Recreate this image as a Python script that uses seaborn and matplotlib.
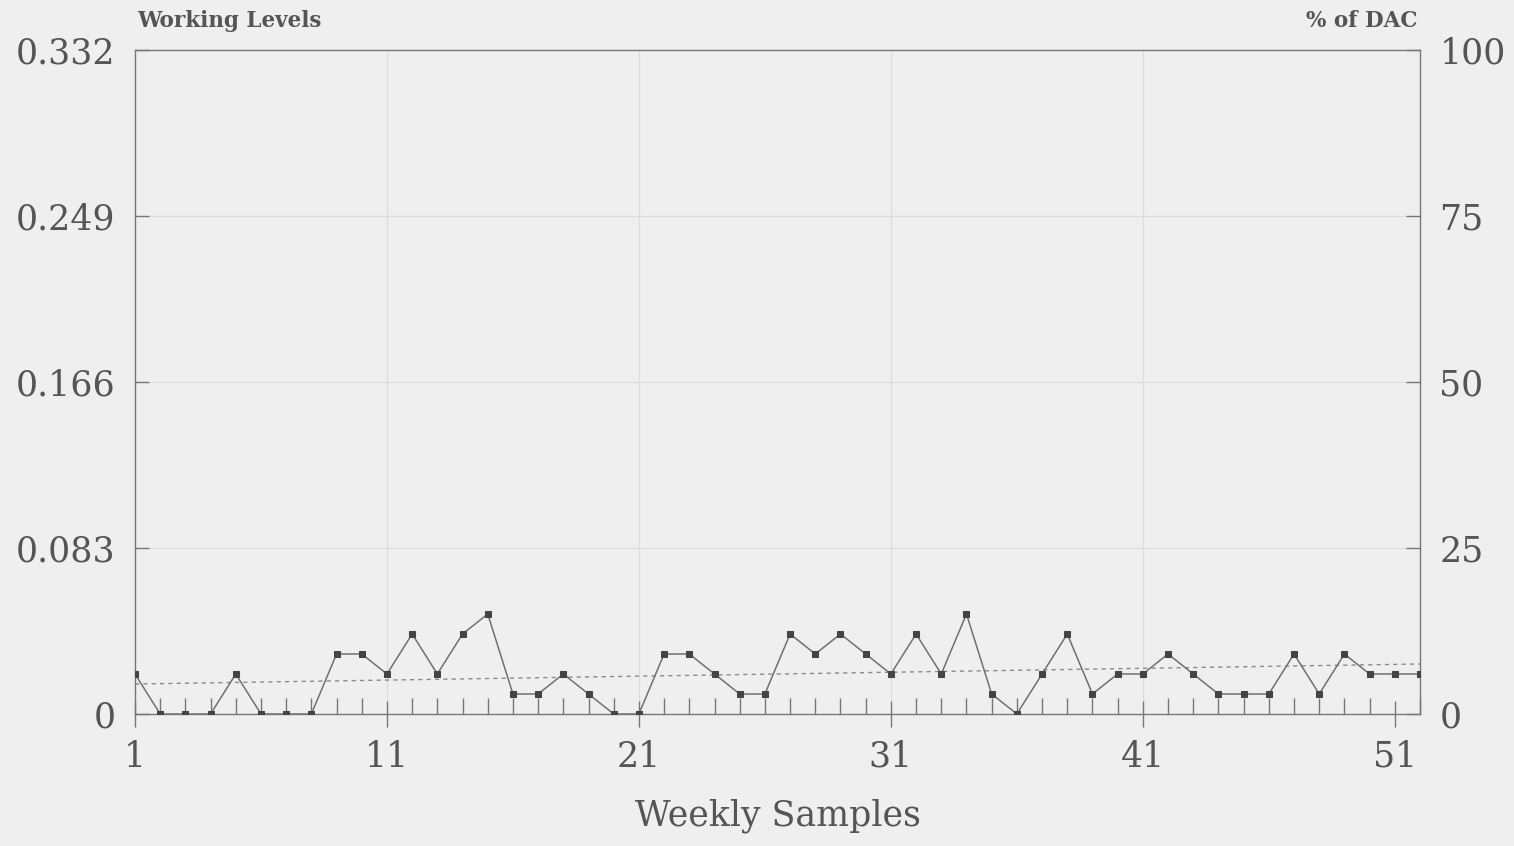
import matplotlib
matplotlib.use("Agg")
import matplotlib.pyplot as plt
import seaborn as sns
import numpy as np
import pandas as pd

# ---- data ----
samples = list(range(1, 53))
working_levels = [0.02, 0.0, 0.0, 0.0, 0.02, 0.0, 0.0, 0.0, 0.03, 0.03,
                  0.02, 0.04, 0.02, 0.04, 0.05, 0.01, 0.01, 0.02, 0.01, 0.0,
                  0.0, 0.03, 0.03, 0.02, 0.01, 0.01, 0.04, 0.03, 0.04, 0.03,
                  0.02, 0.04, 0.02, 0.05, 0.01, 0.0, 0.02, 0.04, 0.01, 0.02,
                  0.02, 0.03, 0.02, 0.01, 0.01, 0.01, 0.03, 0.01, 0.03, 0.02,
                  0.02, 0.02]
trend_x = [1, 52]
trend_y = [0.015, 0.025]
left_ticks = [0, 0.083, 0.166, 0.249, 0.332]
left_labels = ["0", "0.083", "0.166", "0.249", "0.332"]
right_ticks = [0, 25, 50, 75, 100]
right_labels = ["0", "25", "50", "75", "100"]
x_major = [1, 11, 21, 31, 41, 51]

df = pd.DataFrame({"sample": samples, "wl": working_levels})
tdf = pd.DataFrame({"sample": trend_x, "wl": trend_y})

bg = "#efefef"
ink = "#555555"
sns.set_theme(style="white")
plt.rcParams["font.family"] = ["DejaVu Serif"]

fig = plt.figure(figsize=(15.14, 8.46), dpi=100, facecolor=bg)
ax = fig.add_axes([135/1514, 1-714/846, (1420-135)/1514, (714-50)/846])
ax.set_facecolor(bg)

# grid
for v in x_major[1:5]:
    ax.axvline(v, color="#dcdcdc", lw=0.8, zorder=0)
for v in left_ticks[1:4]:
    ax.axhline(v, color="#dcdcdc", lw=0.8, zorder=0)

sns.lineplot(data=tdf, x="sample", y="wl", ax=ax, color="#8a8a8a",
             lw=1.0, linestyle=(0, (3, 3)), zorder=2)
sns.lineplot(data=df, x="sample", y="wl", ax=ax, color="#707070", lw=1.1,
             marker="s", markersize=4.5, markerfacecolor="#444444",
             markeredgecolor="#444444", zorder=3)

ax.set_xlim(1, 52)
ax.set_ylim(0, 0.332)
ax.set_xticks(x_major)
ax.set_xticklabels([str(v) for v in x_major])
ax.set_xticks([v for v in samples if v not in x_major], minor=True)
ax.set_yticks(left_ticks)
ax.set_yticklabels(left_labels)

for s in ax.spines.values():
    s.set_color("#777777")
    s.set_linewidth(1.0)

ax.tick_params(axis="x", which="major", direction="inout", length=19,
               width=1.0, color="#777777", labelsize=25, labelcolor=ink, pad=9,
               bottom=True)
ax.tick_params(axis="x", which="minor", direction="in", length=11.5,
               width=1.0, color="#777777", bottom=True)
ax.tick_params(axis="y", which="major", direction="in", length=10,
               width=1.0, color="#777777", labelsize=25, labelcolor=ink, pad=14,
               left=True)
ax.set_xlabel("Weekly Samples", fontsize=25, color=ink, labelpad=18)
ax.set_ylabel("")

ax2 = ax.twinx()
ax2.set_ylim(0, 100)
ax2.set_yticks(right_ticks)
ax2.set_yticklabels(right_labels)
ax2.tick_params(axis="y", which="major", direction="in", length=10,
                width=1.0, color="#777777", labelsize=25, labelcolor=ink, pad=14,
                right=True)
for s in ax2.spines.values():
    s.set_visible(False)

fig.text(137/1514, 1-21/846, "Working Levels", fontsize=15.5, fontweight="bold",
         color=ink, ha="left", va="center")
fig.text(1418/1514, 1-21/846, "% of DAC", fontsize=15.5, fontweight="bold",
         color=ink, ha="right", va="center")

fig.savefig("out.png", dpi=100, facecolor=bg)
